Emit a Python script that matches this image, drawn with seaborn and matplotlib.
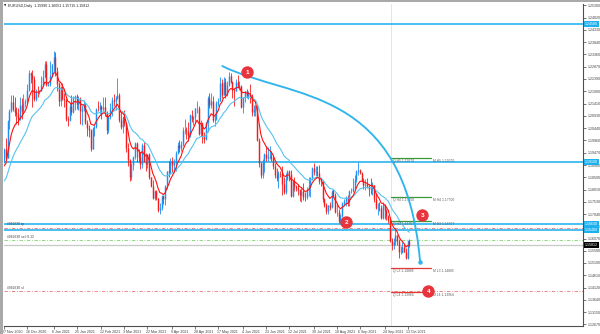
import numpy as np
import pandas as pd
import matplotlib
matplotlib.use("Agg")
import matplotlib.pyplot as plt
import seaborn as sns
from matplotlib.path import Path
from matplotlib.patches import PathPatch, Rectangle
import matplotlib.transforms as mtransforms

# ---------------- data ----------------
symbol = "EURUSD,Daily"
start_date, end_date = "2020-11-27", "2021-10-14"

opens = [1.1916, 1.1962, 1.1926, 1.2071, 1.2113, 1.2146, 1.2120, 1.2107, 1.2102, 1.2079,
         1.2135, 1.2113, 1.2145, 1.2150, 1.2195, 1.2264, 1.2256, 1.2237, 1.2160, 1.2188,
         1.2186, 1.2190, 1.2216, 1.2248, 1.2297, 1.2216, 1.2220, 1.2250, 1.2297, 1.2325,
         1.2270, 1.2219, 1.2151, 1.2207, 1.2159, 1.2156, 1.2080, 1.2076, 1.2132, 1.2107,
         1.2164, 1.2172, 1.2138, 1.2160, 1.2112, 1.2121, 1.2136, 1.2063, 1.2043, 1.2037,
         1.1963, 1.2046, 1.2048, 1.2119, 1.2118, 1.2133, 1.2118, 1.2127, 1.2105, 1.2037,
         1.2089, 1.2119, 1.2157, 1.2150, 1.2165, 1.2175, 1.2075, 1.2047, 1.2090, 1.2063,
         1.1966, 1.1916, 1.1849, 1.1899, 1.1928, 1.1986, 1.1953, 1.1928, 1.1902, 1.1976,
         1.1915, 1.1904, 1.1940, 1.1850, 1.1813, 1.1767, 1.1794, 1.1766, 1.1720, 1.1728,
         1.1777, 1.1762, 1.1813, 1.1873, 1.1870, 1.1915, 1.1900, 1.1911, 1.1945, 1.1979,
         1.1966, 1.1983, 1.2035, 1.2036, 1.2033, 1.2016, 1.2097, 1.2082, 1.2089, 1.2124,
         1.2125, 1.2019, 1.2063, 1.2013, 1.2003, 1.2067, 1.2165, 1.2137, 1.2150, 1.2075,
         1.2080, 1.2142, 1.2150, 1.2223, 1.2174, 1.2227, 1.2180, 1.2213, 1.2250, 1.2225,
         1.2194, 1.2191, 1.2226, 1.2212, 1.2212, 1.2128, 1.2167, 1.2190, 1.2173, 1.2178,
         1.2172, 1.2108, 1.2121, 1.2125, 1.1996, 1.1907, 1.1859, 1.1915, 1.1940, 1.1925,
         1.1929, 1.1935, 1.1925, 1.1895, 1.1857, 1.1847, 1.1866, 1.1865, 1.1822, 1.1791,
         1.1844, 1.1875, 1.1863, 1.1776, 1.1835, 1.1813, 1.1806, 1.1800, 1.1781, 1.1795,
         1.1771, 1.1770, 1.1800, 1.1817, 1.1843, 1.1887, 1.1869, 1.1870, 1.1868, 1.1834,
         1.1833, 1.1762, 1.1738, 1.1717, 1.1739, 1.1731, 1.1795, 1.1778, 1.1711, 1.1711,
         1.1676, 1.1697, 1.1749, 1.1756, 1.1772, 1.1751, 1.1795, 1.1797, 1.1807, 1.1837,
         1.1874, 1.1879, 1.1867, 1.1839, 1.1819, 1.1822, 1.1813, 1.1805, 1.1803, 1.1817,
         1.1765, 1.1726, 1.1729, 1.1726, 1.1689, 1.1740, 1.1719, 1.1695, 1.1682, 1.1597,
         1.1581, 1.1594, 1.1620, 1.1598, 1.1553, 1.1553, 1.1572, 1.1554, 1.1529, 1.1599]
highs = [1.1965, 1.2004, 1.2077, 1.2120, 1.2176, 1.2177, 1.2166, 1.2128, 1.2125, 1.2166,
         1.2163, 1.2178, 1.2161, 1.2220, 1.2273, 1.2268, 1.2273, 1.2251, 1.2200, 1.2212,
         1.2195, 1.2250, 1.2276, 1.2310, 1.2310, 1.2225, 1.2310, 1.2300, 1.2349, 1.2345,
         1.2285, 1.2225, 1.2212, 1.2222, 1.2185, 1.2162, 1.2093, 1.2145, 1.2174, 1.2172,
         1.2177, 1.2181, 1.2171, 1.2167, 1.2135, 1.2155, 1.2142, 1.2076, 1.2058, 1.2042,
         1.2050, 1.2057, 1.2124, 1.2150, 1.2149, 1.2135, 1.2169, 1.2169, 1.2110, 1.2093,
         1.2145, 1.2169, 1.2180, 1.2172, 1.2243, 1.2183, 1.2110, 1.2094, 1.2114, 1.2067,
         1.1985, 1.1921, 1.1905, 1.1932, 1.1990, 1.1990, 1.1962, 1.1951, 1.1985, 1.1990,
         1.1945, 1.1942, 1.1944, 1.1852, 1.1837, 1.1798, 1.1799, 1.1769, 1.1749, 1.1780,
         1.1779, 1.1820, 1.1875, 1.1914, 1.1927, 1.1930, 1.1920, 1.1955, 1.1990, 1.1997,
         1.1994, 1.2048, 1.2080, 1.2049, 1.2070, 1.2100, 1.2117, 1.2093, 1.2125, 1.2150,
         1.2133, 1.2076, 1.2070, 1.2030, 1.2070, 1.2173, 1.2182, 1.2182, 1.2170, 1.2095,
         1.2150, 1.2162, 1.2245, 1.2240, 1.2245, 1.2241, 1.2231, 1.2266, 1.2262, 1.2229,
         1.2202, 1.2237, 1.2254, 1.2229, 1.2214, 1.2168, 1.2192, 1.2200, 1.2191, 1.2218,
         1.2180, 1.2135, 1.2136, 1.2140, 1.2005, 1.1909, 1.1920, 1.1944, 1.1974, 1.1970,
         1.1975, 1.1952, 1.1933, 1.1905, 1.1885, 1.1876, 1.1876, 1.1895, 1.1852, 1.1868,
         1.1880, 1.1880, 1.1880, 1.1838, 1.1850, 1.1817, 1.1823, 1.1802, 1.1810, 1.1828,
         1.1790, 1.1812, 1.1850, 1.1849, 1.1892, 1.1908, 1.1893, 1.1894, 1.1900, 1.1847,
         1.1840, 1.1769, 1.1748, 1.1741, 1.1752, 1.1800, 1.1805, 1.1787, 1.1745, 1.1722,
         1.1704, 1.1753, 1.1764, 1.1774, 1.1779, 1.1801, 1.1806, 1.1845, 1.1857, 1.1877,
         1.1909, 1.1883, 1.1869, 1.1845, 1.1844, 1.1846, 1.1821, 1.1845, 1.1830, 1.1820,
         1.1787, 1.1749, 1.1753, 1.1740, 1.1751, 1.1744, 1.1722, 1.1699, 1.1686, 1.1610,
         1.1608, 1.1640, 1.1622, 1.1605, 1.1576, 1.1595, 1.1590, 1.1570, 1.1600, 1.16051]
lows = [1.1905, 1.1925, 1.1924, 1.2040, 1.2108, 1.2110, 1.2092, 1.2059, 1.2058, 1.2078,
        1.2082, 1.2105, 1.2126, 1.2140, 1.2191, 1.2222, 1.2129, 1.2153, 1.2152, 1.2168,
        1.2180, 1.2190, 1.2210, 1.2245, 1.2211, 1.2210, 1.2211, 1.2246, 1.2265, 1.2252,
        1.2192, 1.2133, 1.2131, 1.2156, 1.2128, 1.2073, 1.2054, 1.2072, 1.2095, 1.2106,
        1.2117, 1.2118, 1.2115, 1.2059, 1.2058, 1.2111, 1.2062, 1.2012, 1.2010, 1.1952,
        1.1960, 1.2014, 1.2046, 1.2110, 1.2099, 1.2081, 1.2110, 1.2094, 1.2022, 1.2023,
        1.2081, 1.2091, 1.2132, 1.2115, 1.2160, 1.2068, 1.2042, 1.2024, 1.2054, 1.1951,
        1.1893, 1.1836, 1.1840, 1.1880, 1.1920, 1.1910, 1.1911, 1.1883, 1.1887, 1.1910,
        1.1874, 1.1885, 1.1842, 1.1809, 1.1762, 1.1760, 1.1760, 1.1712, 1.1704, 1.1719,
        1.1745, 1.1739, 1.1805, 1.1852, 1.1864, 1.1869, 1.1869, 1.1876, 1.1942, 1.1950,
        1.1955, 1.1973, 1.2022, 1.2002, 1.1995, 1.2010, 1.2067, 1.2055, 1.2060, 1.2103,
        1.2016, 1.2011, 1.1985, 1.1986, 1.1999, 1.2030, 1.2124, 1.2124, 1.2069, 1.2052,
        1.2076, 1.2132, 1.2150, 1.2162, 1.2174, 1.2162, 1.2173, 1.2210, 1.2221, 1.2162,
        1.2133, 1.2190, 1.2204, 1.2195, 1.2122, 1.2103, 1.2147, 1.2164, 1.2160, 1.2144,
        1.2093, 1.2092, 1.2094, 1.1995, 1.1892, 1.1847, 1.1848, 1.1872, 1.1912, 1.1915,
        1.1920, 1.1915, 1.1882, 1.1847, 1.1836, 1.1807, 1.1849, 1.1781, 1.1782, 1.1782,
        1.1838, 1.1836, 1.1772, 1.1772, 1.1795, 1.1796, 1.1781, 1.1755, 1.1752, 1.1761,
        1.1754, 1.1763, 1.1776, 1.1771, 1.1840, 1.1859, 1.1855, 1.1854, 1.1822, 1.1814,
        1.1752, 1.1732, 1.1705, 1.1705, 1.1720, 1.1726, 1.1773, 1.1708, 1.1696, 1.1667,
        1.1664, 1.1691, 1.1734, 1.1734, 1.1735, 1.1736, 1.1786, 1.1791, 1.1800, 1.1830,
        1.1858, 1.1861, 1.1835, 1.1803, 1.1801, 1.1808, 1.1775, 1.1783, 1.1780, 1.1750,
        1.1725, 1.1700, 1.1715, 1.1685, 1.1684, 1.1684, 1.1679, 1.1668, 1.1594, 1.1563,
        1.1564, 1.1582, 1.1580, 1.1529, 1.1544, 1.1550, 1.1553, 1.1524, 1.1524, 1.15715]
closes = [1.1962, 1.1926, 1.2071, 1.2113, 1.2146, 1.2120, 1.2107, 1.2102, 1.2079, 1.2135,
          1.2113, 1.2145, 1.2150, 1.2195, 1.2264, 1.2256, 1.2237, 1.2160, 1.2188, 1.2186,
          1.2190, 1.2216, 1.2248, 1.2297, 1.2216, 1.2220, 1.2250, 1.2297, 1.2325, 1.2270,
          1.2219, 1.2151, 1.2207, 1.2159, 1.2156, 1.2080, 1.2076, 1.2132, 1.2107, 1.2164,
          1.2172, 1.2138, 1.2160, 1.2112, 1.2121, 1.2136, 1.2063, 1.2043, 1.2037, 1.1963,
          1.2046, 1.2048, 1.2119, 1.2118, 1.2133, 1.2118, 1.2127, 1.2105, 1.2037, 1.2089,
          1.2119, 1.2157, 1.2150, 1.2165, 1.2175, 1.2075, 1.2047, 1.2090, 1.2063, 1.1966,
          1.1916, 1.1849, 1.1899, 1.1928, 1.1986, 1.1953, 1.1928, 1.1902, 1.1976, 1.1915,
          1.1904, 1.1940, 1.1850, 1.1813, 1.1767, 1.1794, 1.1766, 1.1720, 1.1728, 1.1777,
          1.1762, 1.1813, 1.1873, 1.1870, 1.1915, 1.1900, 1.1911, 1.1945, 1.1979, 1.1966,
          1.1983, 1.2035, 1.2036, 1.2033, 1.2016, 1.2097, 1.2082, 1.2089, 1.2124, 1.2125,
          1.2019, 1.2063, 1.2013, 1.2003, 1.2067, 1.2165, 1.2137, 1.2150, 1.2075, 1.2080,
          1.2142, 1.2150, 1.2223, 1.2174, 1.2227, 1.2180, 1.2213, 1.2250, 1.2225, 1.2194,
          1.2191, 1.2226, 1.2212, 1.2212, 1.2128, 1.2167, 1.2190, 1.2173, 1.2178, 1.2172,
          1.2108, 1.2121, 1.2125, 1.1996, 1.1907, 1.1859, 1.1915, 1.1940, 1.1925, 1.1929,
          1.1935, 1.1925, 1.1895, 1.1857, 1.1847, 1.1866, 1.1865, 1.1822, 1.1791, 1.1844,
          1.1875, 1.1863, 1.1776, 1.1835, 1.1813, 1.1806, 1.1800, 1.1781, 1.1795, 1.1771,
          1.1770, 1.1800, 1.1817, 1.1843, 1.1887, 1.1869, 1.1870, 1.1868, 1.1834, 1.1833,
          1.1762, 1.1738, 1.1717, 1.1739, 1.1731, 1.1795, 1.1778, 1.1711, 1.1711, 1.1676,
          1.1697, 1.1749, 1.1756, 1.1772, 1.1751, 1.1795, 1.1797, 1.1807, 1.1837, 1.1874,
          1.1879, 1.1867, 1.1839, 1.1819, 1.1822, 1.1813, 1.1805, 1.1803, 1.1817, 1.1765,
          1.1726, 1.1729, 1.1726, 1.1689, 1.1740, 1.1719, 1.1695, 1.1682, 1.1597, 1.1581,
          1.1594, 1.1620, 1.1598, 1.1553, 1.1553, 1.1572, 1.1554, 1.1529, 1.1599, 1.15812]
# closes before the first visible bar (used only to seed the moving averages)
warmup_closes = [1.1675, 1.1646, 1.1641, 1.1716, 1.1721, 1.1827, 1.1874, 1.1815, 1.1812, 1.1777,
                 1.1811, 1.1834, 1.1855, 1.1860, 1.1850, 1.1870, 1.1857, 1.1840, 1.1890, 1.1914, 1.1916]
fast_period, slow_period = 8, 21

date_labels = ["27 Nov 2020", "16 Dec 2020", "6 Jan 2021", "25 Jan 2021", "12 Feb 2021",
               "3 Mar 2021", "22 Mar 2021", "9 Apr 2021", "28 Apr 2021", "17 May 2021",
               "4 Jun 2021", "23 Jun 2021", "12 Jul 2021", "30 Jul 2021", "18 Aug 2021",
               "6 Sep 2021", "24 Sep 2021", "13 Oct 2021"]
price_ticks = [1.25300, 1.24820, 1.24330, 1.23840, 1.23360, 1.22870, 1.22390, 1.21900, 1.21410,
               1.20930, 1.20440, 1.19960, 1.19470, 1.18980, 1.18500, 1.18010, 1.17530, 1.17040,
               1.16550, 1.16070, 1.15580, 1.15100, 1.14610, 1.14120, 1.13640, 1.13150, 1.12670]

levels = [1.24580, 1.19100, 1.16630, 1.16400]           # horizontal support/resistance lines
order_id = "#962630"
order_names = ["tp", "sell 0.12", "sl"]
order_prices = [1.16500, 1.16010, 1.13990]
pivot_names = ["H5", "H4", "H3", "L3", "L4"]
pivot_values = [1.19270, 1.17700, 1.16767, 1.14885, 1.13964]
pivot_start, pivot_end = 218.5, 241.1                 # bar positions of pivot segments
separator_bar = 218.5

marker_labels = ["1", "2", "3", "4"]
marker_x = [137.4, 193.3, 236.2, 239.6]
marker_y = [1.2266, 1.1672, 1.1700, 1.1399]
curve_x = [123.3, 161.7, 226.6, 235.0]                 # bezier control points of the arrow curve
curve_y = [1.2290, 1.2156, 1.2215, 1.1514]

# ---------------- styling ----------------
sns.set_style("white")
plt.rcParams['font.family'] = ['Liberation Sans', 'DejaVu Sans']

BULL = "#1e8ff0"
BEAR = "#f51b1b"
LINE_BLUE = "#1fb1ee"
CURVE_BLUE = "#2fb4ec"
MA_FAST = "#ff1010"
MA_SLOW = "#56c3ee"

fig = plt.figure(figsize=(6.0, 3.34), dpi=100)
fig.patch.set_facecolor("white")
ax = fig.add_axes([4 / 600, 8 / 334, 579 / 600, 322 / 334])
ax.set_facecolor("white")

n = len(closes)
idx = np.arange(n)
o = np.array(opens); h = np.array(highs); l = np.array(lows); c = np.array(closes)
up = c >= o

# candles
ax.vlines(idx, l, h, colors=np.where(up, BULL, BEAR), linewidth=0.6, zorder=3)
body_lo = np.minimum(o, c); body_hi = np.maximum(o, c)
body_hi = np.where(body_hi - body_lo < 0.00015, body_lo + 0.00015, body_hi)
ax.vlines(idx, body_lo, body_hi, colors=np.where(up, BULL, BEAR), linewidth=1.05, zorder=3)

# moving averages (EMA) seeded with earlier closes
all_close = pd.Series(warmup_closes + closes)
all_idx = np.arange(-len(warmup_closes), n)
ema_fast = all_close.ewm(span=fast_period, adjust=False).mean().values
ema_slow = all_close.ewm(span=slow_period, adjust=False).mean().values
sel = all_idx >= -1
sns.lineplot(x=all_idx[sel], y=ema_slow[sel], color=MA_SLOW, linewidth=0.8, ax=ax, zorder=4)
sns.lineplot(x=all_idx[sel], y=ema_fast[sel], color=MA_FAST, linewidth=0.8, ax=ax, zorder=5)

# axes limits (pixel-calibrated)
ax.set_xlim(0.28, 327.0)
ax.set_ylim(1.12605, 1.25357)

# horizontal level lines
for lv in levels:
    ax.axhline(lv, color=LINE_BLUE, linewidth=1.15, zorder=2)

# separator
ax.axvline(separator_bar, color="#e9e6a6", linewidth=0.6, zorder=1)

# order lines
order_styles = {"tp": ("#e57373", (0, (4, 2, 1, 2))),
                "sell 0.12": ("#7bd36b", (0, (4, 2, 1, 2))),
                "sl": ("#e57373", (0, (4, 2, 1, 2)))}
for name, pr in zip(order_names, order_prices):
    col, ls = order_styles[name]
    ax.axhline(pr, color=col, linewidth=0.6, linestyle=ls, zorder=2)
    ax.text(1.5, pr + 0.0005, f"{order_id} {name}", fontsize=2.4, color="#404040",
            va="bottom", ha="left", zorder=6)

# current price line
ax.axhline(closes[-1], color="#c8c8c8", linewidth=0.9, zorder=1)

# pivot segments
for name, val in zip(pivot_names, pivot_values):
    col = "#3a9a3a" if name.startswith("H") else "#e53935"
    ax.plot([pivot_start, pivot_end], [val, val], color=col, linewidth=0.9, zorder=4)
    ax.text(pivot_start + 1.3, val - 0.0004, f"Q {name} {val:.5f}", fontsize=2.4,
            color="#606060", va="top", ha="left", zorder=5)
    ax.text(pivot_end + 1.3, val - 0.0004, f"M {name} {val:.5f}", fontsize=2.4,
            color="#606060", va="top", ha="left", zorder=5)

# arrow curve (cubic bezier)
verts = list(zip(curve_x, curve_y))
path = Path(verts, [Path.MOVETO, Path.CURVE4, Path.CURVE4, Path.CURVE4])
ax.add_patch(PathPatch(path, facecolor="none", edgecolor=CURVE_BLUE, linewidth=1.35,
                       capstyle="round", zorder=7))
ax.scatter([curve_x[-1]], [curve_y[-1]], s=5, color=CURVE_BLUE, zorder=7)

# numbered markers
ax.scatter(marker_x, marker_y, s=80, color="#e8343c", zorder=8, linewidths=0)
for lab, mx, my in zip(marker_labels, marker_x, marker_y):
    ax.text(mx, my, lab, color="white", fontsize=4.6, fontweight="bold",
            ha="center", va="center", zorder=9)

# right price axis
ax.yaxis.tick_right()
ax.set_yticks(price_ticks)
ax.set_yticklabels([f"{t:.5f}" for t in price_ticks])
ax.tick_params(axis="y", which="major", length=2, width=0.5, pad=1.2,
               labelsize=2.6, colors="#404040", right=True, left=False)

# bottom date axis
dates = pd.bdate_range(start_date, end_date)
label_pos = [dates.get_loc(pd.to_datetime(s, format="%d %b %Y")) for s in date_labels]
ax.set_xticks(label_pos)
ax.set_xticklabels(date_labels, ha="left")
ax.tick_params(axis="x", which="major", length=2, width=0.5, pad=0.8,
               labelsize=2.6, colors="#404040", bottom=True)
offset = mtransforms.ScaledTranslation(-1.5 / 100, 0, fig.dpi_scale_trans)
for lab in ax.get_xticklabels():
    lab.set_horizontalalignment("left")
    lab.set_transform(lab.get_transform() + offset)

ax.set_xlabel(""); ax.set_ylabel("")
for side in ["top", "left"]:
    ax.spines[side].set_visible(False)
for side in ["right", "bottom"]:
    ax.spines[side].set_color("#505050")
    ax.spines[side].set_linewidth(0.8)

# highlighted price labels on right axis
trans = mtransforms.blended_transform_factory(ax.transAxes, ax.transData)
for lv in levels:
    ax.text(1.003, lv, f"{lv:.5f}", transform=trans, fontsize=2.6, color="white",
            va="center", ha="left", clip_on=False, zorder=10,
            bbox=dict(boxstyle="square,pad=0.25", facecolor=LINE_BLUE, edgecolor="none"))
ax.text(1.003, closes[-1], f"{closes[-1]:.5f}", transform=trans, fontsize=2.6, color="white",
        va="center", ha="left", clip_on=False, zorder=10,
        bbox=dict(boxstyle="square,pad=0.25", facecolor="#000000", edgecolor="none"))

# header
fig.text(3.5 / 600, 1 - 6 / 334, "\u25bc", fontsize=2.2, color="#202020",
         va="center", ha="left", family=["DejaVu Sans"])
fig.text(8 / 600, 1 - 6 / 334,
         f"{symbol}  {opens[-1]:.5f} {highs[-1]:.5f} {lows[-1]:.5f} {closes[-1]:.5f}",
         fontsize=2.6, color="#202020", va="center", ha="left")

# window frame bits
fig.patches.append(Rectangle((0, 0), 3 / 600, 1, transform=fig.transFigure,
                             facecolor="#a9a9a9", edgecolor="none", zorder=0))
fig.patches.append(Rectangle((0, 1 - 2 / 334), 1, 2 / 334, transform=fig.transFigure,
                             facecolor="#a9a9a9", edgecolor="none", zorder=0))

fig.savefig("out.png", dpi=100, facecolor="white")
